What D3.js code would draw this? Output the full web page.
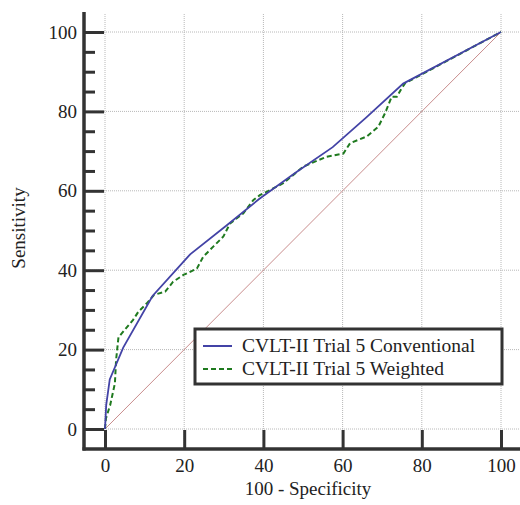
<!DOCTYPE html>
<html>
<head>
<meta charset="utf-8">
<script src="https://cdn.jsdelivr.net/npm/d3@7"></script>
<style>
  body { margin: 0; background: #fff; }
  text { font-family: "Liberation Serif", "DejaVu Serif", serif; fill: #222; }
</style>
</head>
<body>
<div id="chart"></div>
<script>
// ROC points (100 - specificity, sensitivity)
var convX = [0, 0.3, 1.2, 4.6, 12, 21.5, 31, 39, 48, 57.5, 66, 75.3, 100];
var convY = [0, 6, 12.5, 20.5, 33.5, 44, 51.5, 58, 64.5, 71, 78.5, 87, 100];

var wtdX = [0, 0.25, 1.3, 2.5, 2.8, 3.4, 7.1, 8.4, 10.5, 12.4, 15.2, 17.2, 19.8, 23.2, 24.8, 27.4,
            29.9, 31.6, 34.9, 37.5, 39.1, 41.7, 45, 50.1, 56, 60.2, 61.9, 66.1, 69, 70.7, 72.4, 73.7, 74.9, 75.8, 100];
var wtdY = [0, 2.7, 6, 11.5, 17.4, 23.1, 27.5, 29.5, 31.6, 33.8, 34.6, 37.1, 38.8, 40.4, 43.4, 46,
            48.5, 51.8, 54.3, 57.7, 58.9, 60.2, 61.9, 66.1, 68.6, 69.4, 72, 73.7, 76.1, 79.5, 83.7, 83.7, 85.8, 87.1, 100];

var majorTicks = [0, 20, 40, 60, 80, 100];
var minorTicks = [5, 10, 15, 25, 30, 35, 45, 50, 55, 65, 70, 75, 85, 90, 95];

var seriesNames = ["CVLT-II Trial 5 Conventional", "CVLT-II Trial 5 Weighted"];

var width = 520, height = 505;
var axisX = 84, axisY = 449;

var svg = d3.select("#chart").append("svg")
    .attr("width", width)
    .attr("height", height);

var x = d3.scaleLinear().domain([0, 100]).range([105, 501]);
var y = d3.scaleLinear().domain([0, 100]).range([429, 32]);

// grid
svg.append("g").selectAll("line")
    .data(majorTicks).enter().append("line")
    .attr("x1", function(d) { return x(d); })
    .attr("x2", function(d) { return x(d); })
    .attr("y1", 14).attr("y2", axisY)
    .attr("stroke", "#b8b8b8").attr("stroke-width", 1).attr("stroke-dasharray", "1,1");
svg.append("g").selectAll("line")
    .data(majorTicks).enter().append("line")
    .attr("x1", axisX).attr("x2", width)
    .attr("y1", function(d) { return y(d); })
    .attr("y2", function(d) { return y(d); })
    .attr("stroke", "#b8b8b8").attr("stroke-width", 1).attr("stroke-dasharray", "1,1");

// reference diagonal
svg.append("line")
    .attr("x1", x(0)).attr("y1", y(0))
    .attr("x2", x(100)).attr("y2", y(100))
    .attr("stroke", "#c88c8c").attr("stroke-width", 1);

// curves
var line = d3.line()
    .x(function(d) { return x(d[0]); })
    .y(function(d) { return y(d[1]); });

svg.append("path")
    .datum(d3.zip(wtdX, wtdY))
    .attr("d", line)
    .attr("fill", "none")
    .attr("stroke", "#1f7a1f")
    .attr("stroke-width", 2)
    .attr("stroke-dasharray", "5,3");

svg.append("path")
    .datum(d3.zip(convX, convY))
    .attr("d", line)
    .attr("fill", "none")
    .attr("stroke", "#4343a6")
    .attr("stroke-width", 1.8);

// y axis
var yAxis = svg.append("g")
    .attr("transform", "translate(" + axisX + ",0)")
    .call(d3.axisLeft(y).tickValues(majorTicks).tickSizeInner(-20).tickSizeOuter(0).tickPadding(7));
yAxis.select(".domain").remove();
yAxis.selectAll(".tick line").attr("stroke", "#333").attr("stroke-width", 3);
yAxis.selectAll(".tick text").style("font-size", "19px").attr("fill", "#222")
    .style("font-family", "'Liberation Serif', serif");

var yMinor = svg.append("g")
    .attr("transform", "translate(" + axisX + ",0)")
    .call(d3.axisLeft(y).tickValues(minorTicks).tickSizeInner(-11).tickSizeOuter(0).tickFormat(""));
yMinor.select(".domain").remove();
yMinor.selectAll(".tick line").attr("stroke", "#333").attr("stroke-width", 3);

// x axis
var xAxis = svg.append("g")
    .attr("transform", "translate(0," + axisY + ")")
    .call(d3.axisBottom(x).tickValues(majorTicks).tickSizeInner(-19).tickSizeOuter(0).tickPadding(10));
xAxis.select(".domain").remove();
xAxis.selectAll(".tick line").attr("stroke", "#333").attr("stroke-width", 3);
xAxis.selectAll(".tick text").style("font-size", "19px").attr("fill", "#222")
    .style("font-family", "'Liberation Serif', serif");

// axis lines
svg.append("line")
    .attr("x1", axisX).attr("x2", axisX)
    .attr("y1", 12).attr("y2", axisY + 1.5)
    .attr("stroke", "#333").attr("stroke-width", 3.5);
svg.append("line")
    .attr("x1", axisX - 1.5).attr("x2", width)
    .attr("y1", axisY).attr("y2", axisY)
    .attr("stroke", "#333").attr("stroke-width", 3.5);

// axis titles
svg.append("text")
    .attr("x", 308).attr("y", 495)
    .attr("text-anchor", "middle")
    .style("font-size", "19px")
    .text("100 - Specificity");

svg.append("text")
    .attr("transform", "translate(25,228) rotate(-90)")
    .attr("text-anchor", "middle")
    .style("font-size", "19px")
    .text("Sensitivity");

// legend
var legend = svg.append("g");
legend.append("rect")
    .attr("x", 195).attr("y", 329)
    .attr("width", 307).attr("height", 55)
    .attr("fill", "#fff")
    .attr("stroke", "#333").attr("stroke-width", 3);

var legColors = ["#4343a6", "#1f7a1f"];
var legDash = [null, "5,3"];
seriesNames.forEach(function(name, i) {
    var ly = 346 + i * 23;
    legend.append("line")
        .attr("x1", 203).attr("x2", 232)
        .attr("y1", ly).attr("y2", ly)
        .attr("stroke", legColors[i])
        .attr("stroke-width", 2)
        .attr("stroke-dasharray", legDash[i]);
    legend.append("text")
        .attr("x", 242).attr("y", ly + 6)
        .style("font-size", "19.5px")
        .text(name);
});
</script>
</body>
</html>
